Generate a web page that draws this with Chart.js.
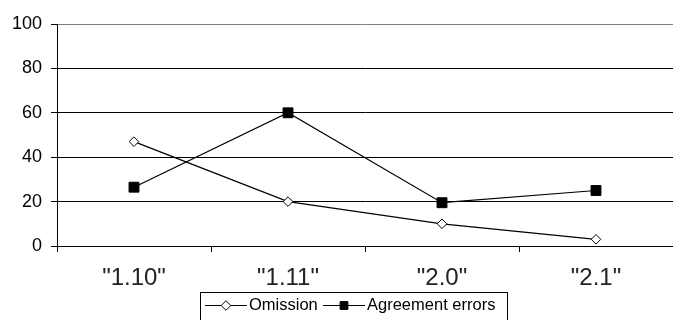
<!DOCTYPE html>
<html>
<head>
<meta charset="utf-8">
<script src="https://cdn.jsdelivr.net/npm/chart.js@4/dist/chart.umd.min.js"></script>
<style>
  html, body { margin: 0; padding: 0; background: #fff; overflow: hidden; }
  #wrap { width: 681px; height: 320px; }
  canvas { display: block; }
</style>
</head>
<body>
<div id="wrap"><canvas id="c" width="681" height="320"></canvas></div>
<script>
// Versions on the category axis
const categories = ['"1.10"', '"1.11"', '"2.0"', '"2.1"'];
// Error rates per version (%)
const omission = [47, 20, 10, 3];
const agreementErrors = [26.5, 60, 19.5, 25];
// Value axis ticks
const yTicks = [0, 20, 40, 60, 80, 100];

const FONT = '"Liberation Sans", Arial, Helvetica, sans-serif';

// Boxed legend under the axis: line sample with the series marker, then its label
const boxedLegend = {
  id: 'boxedLegend',
  afterDraw(chart) {
    const ctx = chart.ctx;
    const box = { x: 200.5, y: 292.5, w: 307, h: 40 };
    const cy = 305;
    const items = [
      { x0: 205, x1: 247, tx: 249 },
      { x0: 323, x1: 365, tx: 367 }
    ];
    ctx.save();
    ctx.fillStyle = '#fff';
    ctx.fillRect(box.x, box.y, box.w, box.h);
    ctx.strokeStyle = '#000';
    ctx.lineWidth = 1;
    ctx.strokeRect(box.x, box.y, box.w, box.h);
    chart.data.datasets.forEach((ds, i) => {
      const it = items[i];
      ctx.strokeStyle = ds.borderColor;
      ctx.lineWidth = 1;
      ctx.beginPath();
      ctx.moveTo(it.x0, cy + 0.5);
      ctx.lineTo(it.x1, cy + 0.5);
      ctx.stroke();
      const mx = (it.x0 + it.x1) / 2;
      ctx.fillStyle = ds.pointBackgroundColor;
      ctx.strokeStyle = ds.pointBorderColor;
      ctx.lineWidth = ds.pointBorderWidth;
      Chart.helpers.drawPoint(ctx, {
        pointStyle: ds.pointStyle,
        radius: ds.pointStyle === 'rect' ? 5.5 : ds.pointRadius,
        borderWidth: ds.pointBorderWidth,
        rotation: 0
      }, mx, cy + 0.5);
      ctx.fillStyle = '#000';
      ctx.font = '16.5px ' + FONT;
      ctx.textBaseline = 'middle';
      ctx.textAlign = 'left';
      ctx.fillText(ds.label, it.tx, cy);
    });
    ctx.restore();
  }
};

new Chart(document.getElementById('c'), {
  type: 'line',
  data: {
    labels: categories,
    datasets: [
      {
        label: 'Omission',
        data: omission,
        borderColor: '#000',
        borderWidth: 1.2,
        pointStyle: 'rectRot',
        pointRadius: 4.8,
        pointHoverRadius: 4.8,
        pointBackgroundColor: '#fff',
        pointBorderColor: '#000',
        pointBorderWidth: 1,
        tension: 0,
        fill: false
      },
      {
        label: 'Agreement errors',
        data: agreementErrors,
        borderColor: '#000',
        borderWidth: 1.2,
        pointStyle: 'rect',
        pointRadius: 7,
        pointHoverRadius: 7,
        pointBackgroundColor: '#000',
        pointBorderColor: '#000',
        pointBorderWidth: 1,
        tension: 0,
        fill: false
      }
    ]
  },
  options: {
    responsive: false,
    animation: false,
    devicePixelRatio: 1,
    layout: { padding: { top: 24, left: 0, right: 0, bottom: 0 } },
    plugins: {
      legend: { display: false },
      tooltip: { enabled: false }
    },
    scales: {
      x: {
        type: 'category',
        offset: true,
        grid: {
          offset: true,
          drawOnChartArea: false,
          drawTicks: true,
          tickLength: 6,
          tickColor: '#000',
          tickWidth: 1
        },
        border: { display: true, color: '#000', width: 1 },
        ticks: {
          color: '#222',
          font: { family: FONT, size: 24 },
          padding: 12,
          maxRotation: 0,
          autoSkip: false
        },
        afterFit(scale) { scale.height = 74; }
      },
      y: {
        min: 0,
        max: 100,
        afterBuildTicks(scale) {
          scale.ticks = yTicks.map(v => ({ value: v }));
        },
        grid: {
          color: ctx => (ctx.tick && ctx.tick.value === 100) ? '#808080' : '#000',
          lineWidth: 1,
          drawTicks: true,
          tickLength: 6,
          tickColor: '#000',
          tickWidth: 1
        },
        border: { display: true, color: '#000', width: 1 },
        ticks: {
          color: '#000',
          font: { family: FONT, size: 18 },
          padding: 9
        },
        afterFit(scale) { scale.width = 57; }
      }
    }
  },
  plugins: [boxedLegend]
});
</script>
</body>
</html>
